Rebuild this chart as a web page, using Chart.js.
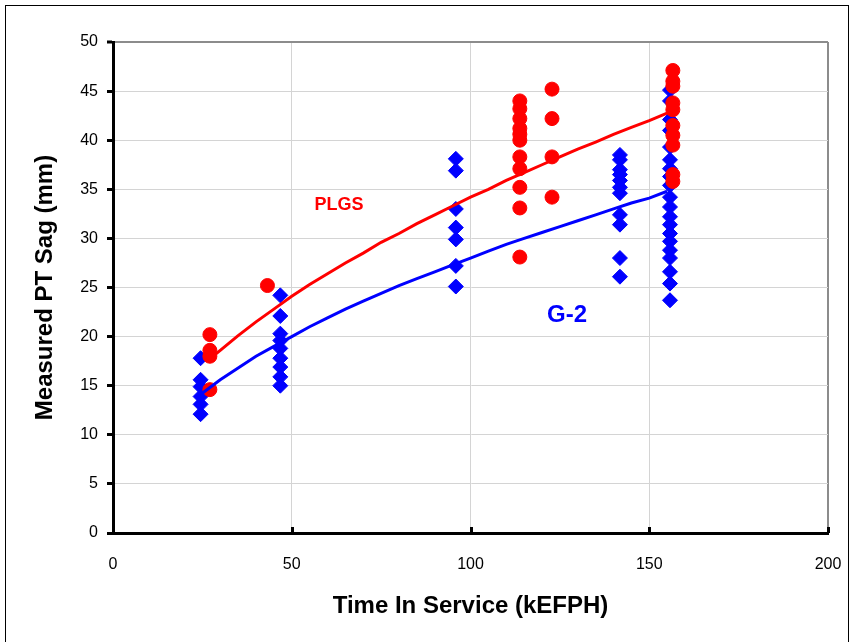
<!DOCTYPE html>
<html>
<head>
<meta charset="utf-8">
<script src="https://cdn.jsdelivr.net/npm/chart.js@4"></script>
<style>
  body { margin: 0; background: #fff; }
  #wrap { width: 853px; height: 642px; }
</style>
</head>
<body>
<div id="wrap"><canvas id="chart"></canvas></div>
<script>
// measured sag, grouped by inspection time (kEFPH)
var g2Times = [24.5, 46.8, 95.9, 141.8, 155.8];
var g2Sag = [
  [17.8, 15.6, 14.9, 13.9, 13.1, 12.1],
  [24.2, 22.1, 20.3, 19.6, 18.8, 17.8, 16.9, 15.9, 15.0],
  [38.1, 36.9, 33.0, 31.1, 29.9, 27.2, 25.1],
  [38.5, 38.0, 37.0, 36.5, 35.9, 35.2, 34.6, 32.4, 31.4, 28.0, 26.1],
  [45.1, 44.0, 42.1, 41.0, 39.3, 38.0, 37.1, 36.3, 35.4, 34.2, 33.2, 32.2, 31.4, 30.5, 29.7, 28.8, 28.0, 26.6, 25.4, 23.7]
];

var plgsTimes = [27.1, 43.2, 113.8, 122.8, 156.6];
var plgsSag = [
  [20.2, 18.6, 18.0, 14.6],
  [25.2],
  [44.0, 43.2, 42.2, 41.2, 40.6, 40.0, 38.3, 37.1, 35.2, 33.1, 28.1],
  [45.2, 42.2, 38.3, 34.2],
  [47.1, 46.0, 45.5, 43.8, 43.1, 41.5, 40.5, 39.5, 36.5, 35.8]
];

// fitted trend curves
var g2FitX = [24.5, 30, 35, 40, 45, 50, 55, 60, 65, 70, 75, 80, 85, 90, 95, 100, 105, 110, 115, 120, 125, 130, 135, 140, 145, 150, 155];
var g2FitY = [14.1, 15.6, 16.8, 18.0, 19.0, 20.0, 21.0, 21.9, 22.8, 23.6, 24.4, 25.2, 25.9, 26.6, 27.3, 28.0, 28.7, 29.4, 30.0, 30.6, 31.2, 31.8, 32.4, 33.0, 33.6, 34.1, 34.8];
var plgsFitX = [27, 30, 35, 40, 45, 50, 55, 60, 65, 70, 75, 80, 85, 90, 95, 100, 105, 110, 115, 120, 125, 130, 135, 140, 145, 150, 156];
var plgsFitY = [17.7, 18.6, 20.1, 21.5, 22.8, 24.1, 25.3, 26.4, 27.5, 28.5, 29.6, 30.5, 31.5, 32.4, 33.3, 34.2, 35.0, 35.9, 36.7, 37.5, 38.3, 39.1, 39.8, 40.6, 41.3, 42.0, 42.9];

var xTicks = [0, 50, 100, 150, 200];
var yTicks = [0, 5, 10, 15, 20, 25, 30, 35, 40, 45, 50];

var FONT = "'Liberation Sans', Arial, sans-serif";

function toPoints(times, groups) {
  var pts = [];
  times.forEach(function(t, i) {
    groups[i].forEach(function(v) { pts.push({x: t, y: v}); });
  });
  return pts;
}

function zip(xs, ys) {
  return xs.map(function(x, i) { return {x: x, y: ys[i]}; });
}

//--------------------------------------------------------------------
// * little extras: outer frame, inward x ticks, series labels
//--------------------------------------------------------------------
var extras = {
  id: 'extras',
  afterDraw: function(chart) {
    var ctx = chart.ctx;
    var xs = chart.scales.x, ys = chart.scales.y;
    ctx.save();
    ctx.strokeStyle = '#000';
    ctx.lineWidth = 1;
    ctx.strokeRect(5.5, 5.5, 843, 660);

    ctx.lineWidth = 3;
    [50, 100, 150, 200].forEach(function(v) {
      var px = Math.round(xs.getPixelForValue(v)) + 0.5;
      ctx.beginPath();
      ctx.moveTo(px, ys.bottom);
      ctx.lineTo(px, ys.bottom - 6);
      ctx.stroke();
    });

    ctx.textAlign = 'center';
    ctx.textBaseline = 'middle';
    ctx.fillStyle = '#ff0000';
    ctx.font = 'bold 18px ' + FONT;
    ctx.fillText('PLGS', xs.getPixelForValue(63.2), ys.getPixelForValue(33.4));
    ctx.fillStyle = '#0000ff';
    ctx.font = 'bold 24px ' + FONT;
    ctx.fillText('G-2', xs.getPixelForValue(127), ys.getPixelForValue(22.2));
    ctx.restore();
  }
};

var ctx = document.getElementById('chart').getContext('2d');
var chart = new Chart(ctx, {
  type: 'scatter',
  data: {
    datasets: [{
      label: 'G-2',
      data: toPoints(g2Times, g2Sag),
      pointStyle: 'rectRot',
      pointRadius: 7.5,
      backgroundColor: '#0000ff',
      borderColor: '#0000ff',
      borderWidth: 1,
      order: 4
    }, {
      label: 'PLGS',
      data: toPoints(plgsTimes, plgsSag),
      pointStyle: 'circle',
      pointRadius: 7,
      backgroundColor: '#ff0000',
      borderColor: '#ff0000',
      borderWidth: 1,
      order: 3
    }, {
      label: 'PLGS fit',
      data: zip(plgsFitX, plgsFitY),
      showLine: true,
      pointRadius: 0,
      borderColor: '#ff0000',
      borderWidth: 3,
      order: 2
    }, {
      label: 'G-2 fit',
      data: zip(g2FitX, g2FitY),
      showLine: true,
      pointRadius: 0,
      borderColor: '#0000ff',
      borderWidth: 3,
      order: 1
    }]
  },
  options: {
    responsive: true,
    maintainAspectRatio: false,
    animation: false,
    layout: { padding: { left: 0, top: 42, right: 25, bottom: 0 } },
    plugins: {
      legend: { display: false },
      tooltip: { enabled: false }
    },
    scales: {
      x: {
        type: 'linear',
        min: 0, max: 200,
        afterBuildTicks: function(s) { s.ticks = xTicks.map(function(v) { return {value: v}; }); },
        afterFit: function(s) { s.height = 109; },
        ticks: { color: '#000', font: { family: FONT, size: 16 }, padding: 2, maxRotation: 0 },
        grid: {
          drawTicks: true,
          tickLength: 20,
          tickColor: 'rgba(0,0,0,0)',
          color: function(c) { return c.tick && c.tick.value === 200 ? '#8c8c8c' : '#d4d4d4'; },
          lineWidth: function(c) { return c.tick && c.tick.value === 200 ? 2 : 1; }
        },
        border: { color: '#000', width: 3 },
        title: {
          display: true,
          text: 'Time In Service (kEFPH)',
          color: '#000',
          font: { family: FONT, size: 24, weight: 'bold' },
          padding: { top: 0, bottom: 21 }
        }
      },
      y: {
        min: 0, max: 50,
        afterBuildTicks: function(s) { s.ticks = yTicks.map(function(v) { return {value: v}; }); },
        afterFit: function(s) { s.width = 113; },
        ticks: { color: '#000', font: { family: FONT, size: 16 }, padding: 9 },
        grid: {
          tickLength: 6,
          tickColor: '#000',
          tickWidth: 3,
          color: function(c) { return c.tick && c.tick.value === 50 ? '#8c8c8c' : '#d4d4d4'; },
          lineWidth: function(c) { return c.tick && c.tick.value === 50 ? 2 : 1; }
        },
        border: { color: '#000', width: 3 },
        title: {
          display: true,
          text: 'Measured PT Sag (mm)',
          color: '#000',
          font: { family: FONT, size: 24, weight: 'bold' },
          padding: { top: 31, bottom: 0 }
        }
      }
    }
  },
  plugins: [extras]
});
</script>
</body>
</html>
